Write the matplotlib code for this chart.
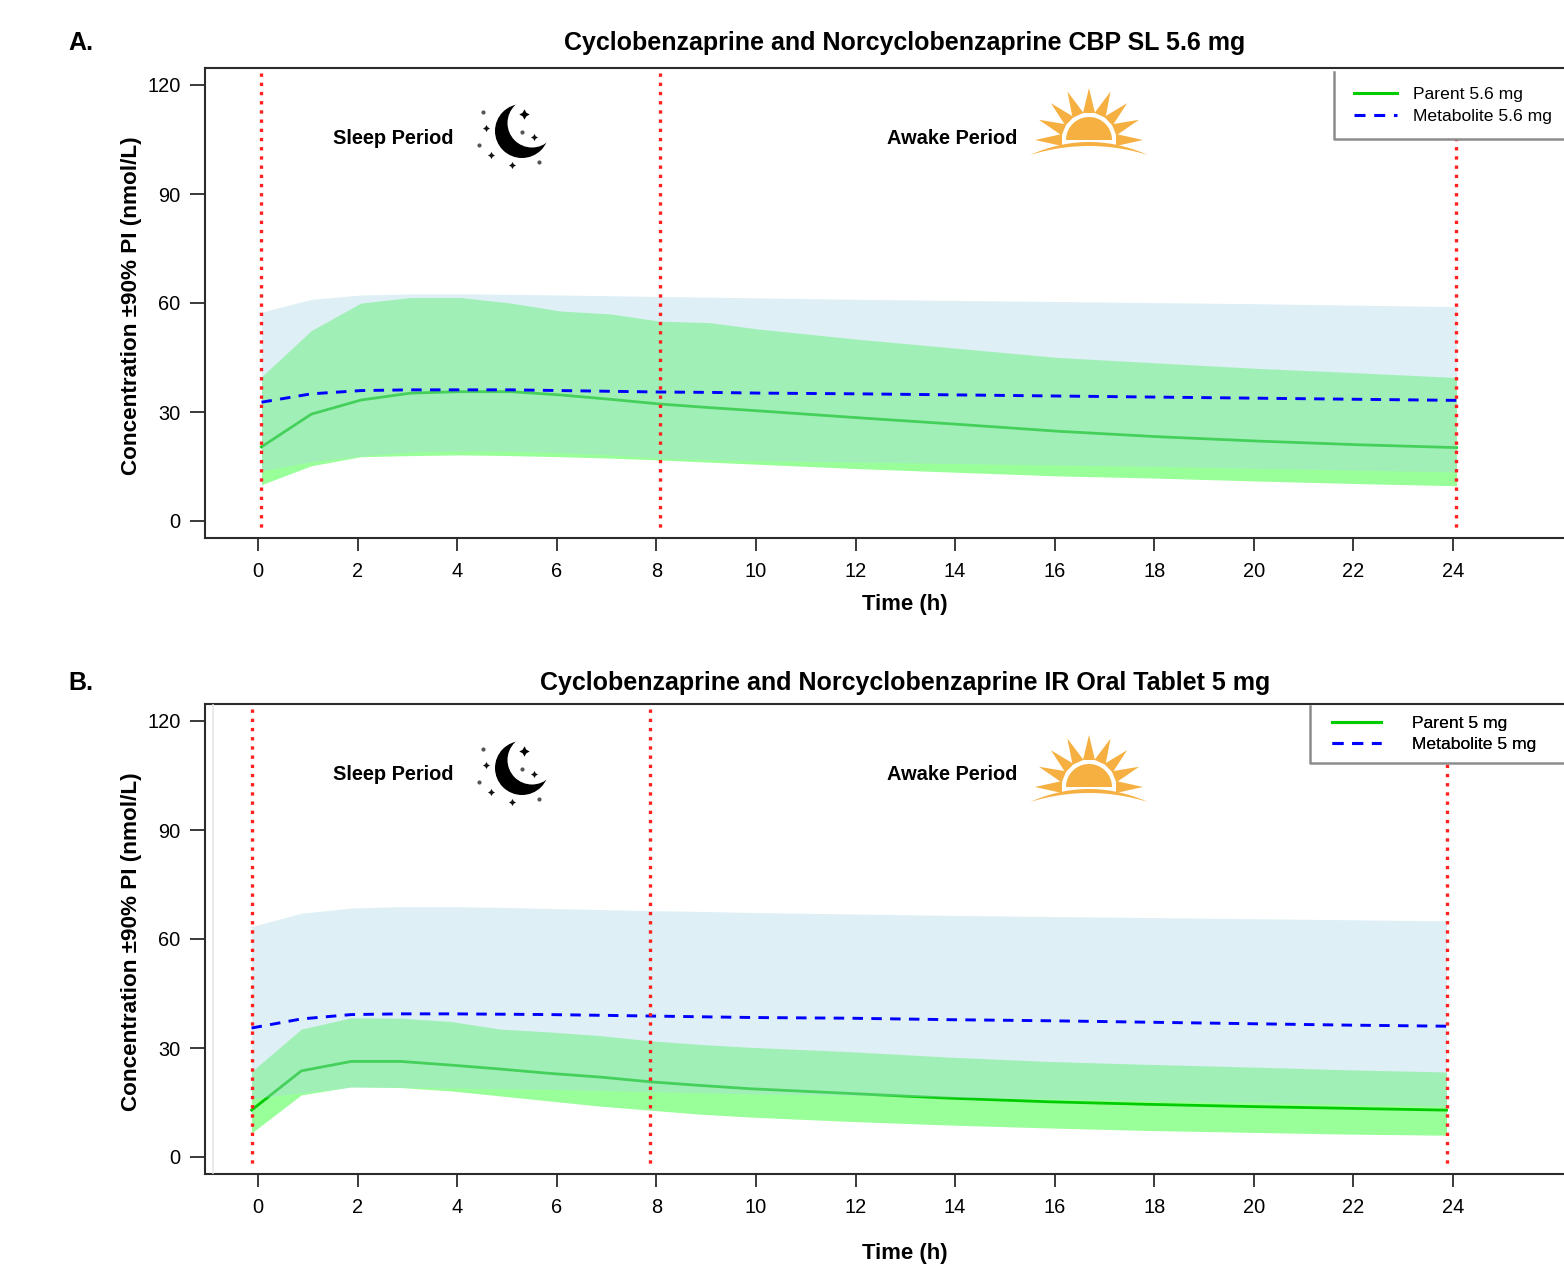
import numpy as np
import matplotlib
matplotlib.use('Agg')
import matplotlib.pyplot as plt
from matplotlib.lines import Line2D
from matplotlib.patches import Circle, Polygon, Rectangle

plt.rcParams['font.family'] = ['Liberation Sans', 'DejaVu Sans']

# Data
time = [0, 1, 2, 3, 4, 5, 6, 7, 8, 9, 10, 12, 14, 16, 18, 20, 22, 24]
period_edges = [0, 8, 24]
x_ticks = list(range(0, 25, 2))
y_ticks = [0, 30, 60, 90, 120]

a_parent = [20.4, 29.4, 33.3, 35.2, 35.6, 35.6, 34.7, 33.5, 32.2, 31.2, 30.3, 28.4, 26.6, 24.7, 23.2, 22.0, 21.0, 20.2]
a_parent_hi = [39.7, 52.4, 60.0, 61.5, 61.5, 60.0, 57.8, 57.0, 55.0, 54.6, 52.8, 50.0, 47.5, 45.0, 43.5, 42.0, 40.8, 39.5]
a_parent_lo = [10.0, 15.2, 17.7, 18.0, 18.2, 18.0, 17.7, 17.3, 16.8, 16.2, 15.6, 14.4, 13.4, 12.4, 11.8, 11.0, 10.3, 9.7]
a_metab = [32.7, 35.0, 35.9, 36.1, 36.1, 36.1, 35.9, 35.7, 35.5, 35.4, 35.2, 35.0, 34.7, 34.4, 34.1, 33.8, 33.5, 33.2]
a_metab_hi = [57.5, 61.0, 62.2, 62.5, 62.5, 62.4, 62.2, 62.0, 61.8, 61.6, 61.4, 61.0, 60.7, 60.4, 60.1, 59.8, 59.4, 59.0]
a_metab_lo = [13.8, 16.3, 17.9, 19.0, 19.3, 19.2, 18.8, 18.2, 17.3, 16.9, 16.6, 16.2, 15.8, 15.4, 15.0, 14.5, 14.0, 13.5]

b_parent = [12.9, 23.7, 26.3, 26.3, 25.3, 24.2, 23.0, 22.0, 20.7, 19.7, 18.8, 17.5, 16.2, 15.2, 14.5, 13.9, 13.4, 12.9]
b_parent_hi = [23.5, 35.2, 38.3, 38.2, 37.3, 35.2, 34.4, 33.4, 32.0, 31.0, 30.2, 29.0, 27.5, 26.3, 25.5, 24.8, 24.0, 23.4]
b_parent_lo = [6.6, 17.1, 19.3, 19.1, 18.2, 16.8, 15.4, 14.0, 12.9, 11.8, 11.0, 9.8, 8.8, 8.0, 7.3, 6.8, 6.3, 6.0]
b_metab = [35.5, 38.0, 39.2, 39.4, 39.4, 39.3, 39.2, 39.0, 38.8, 38.6, 38.4, 38.2, 37.8, 37.5, 37.1, 36.7, 36.3, 36.0]
b_metab_hi = [63.4, 67.1, 68.5, 68.9, 68.9, 68.7, 68.4, 68.1, 67.8, 67.6, 67.3, 66.9, 66.5, 66.2, 65.9, 65.6, 65.3, 65.0]
b_metab_lo = [16.0, 17.7, 19.2, 19.2, 19.0, 18.8, 18.6, 18.3, 18.0, 17.7, 17.4, 17.0, 16.5, 16.0, 15.6, 15.1, 14.5, 14.0]

W, H = 1564, 1266
BLUE_BAND = (173 / 255, 216 / 255, 230 / 255, 0.4)
GREEN_BAND = '#99ff99'
GREEN = '#00cc00'
DARK = '#2b2b2b'
SUN = '#f6b042'

fig = plt.figure(figsize=(W / 100, H / 100), dpi=100)

# overlay in pixel coordinates for the legend boxes and the icons
overlay = fig.add_axes([0, 0, 1, 1], zorder=5)
overlay.set_xlim(0, W)
overlay.set_ylim(H, 0)
overlay.axis('off')
overlay.patch.set_alpha(0)


def draw_moon(cx, cy):
    overlay.add_patch(Circle((cx, cy), 27, color='black', lw=0))
    overlay.add_patch(Circle((cx + 10, cy - 8), 24.5, color='white', lw=0))
    big = [(2, -17)]
    med = [(12, 6), (-36, -3), (-31, 24), (-10, 34)]
    small = [(-39, -19), (0, 1), (-43, 14), (17, 31)]
    for dx, dy in big:
        overlay.scatter(cx + dx, cy + dy, s=55, marker=(4, 1, 0), color='black', lw=0)
    for dx, dy in med:
        overlay.scatter(cx + dx, cy + dy, s=26, marker=(4, 1, 0), color='#111111', lw=0)
    for dx, dy in small:
        overlay.scatter(cx + dx, cy + dy, s=9, color='#555555', lw=0)


def draw_sun(cx, base):
    angles = np.radians([0, 22, 44, 66, 90, 114, 136, 158, 180])
    tips = [54, 54, 53, 53, 52, 53, 53, 54, 54]
    for ang, tip in zip(angles, tips):
        ux, uy = np.cos(ang), -np.sin(ang)
        px, py = -uy, ux
        r0 = 27
        pts = [(cx + r0 * ux + 6 * px, base + r0 * uy + 6 * py),
               (cx + r0 * ux - 6 * px, base + r0 * uy - 6 * py),
               (cx + tip * ux, base + tip * uy)]
        overlay.add_patch(Polygon(pts, color=SUN, lw=0))
    t = np.linspace(0, np.pi, 40)
    disk = np.column_stack([cx + 23 * np.cos(t), base - 23 * np.sin(t)])
    overlay.add_patch(Polygon(disk, color=SUN, lw=0))
    u = np.linspace(-1, 1, 40)
    top = np.column_stack([cx + 59 * u, base + 2 + 13 * u ** 2])
    bot = np.column_stack([cx + 59 * u[::-1], base + 6 + 9 * u[::-1] ** 2])
    overlay.add_patch(Polygon(np.vstack([top, bot]), color=SUN, lw=0))


def draw_panel(top, bottom, y0_px, shift, title, title_y, label, parent, parent_hi, parent_lo,
               metab, metab_hi, metab_lo, xlabel_y, legend_box, legend_labels, handle_len,
               text_pad, row_gap, moon, sun, sleep_xy, awake_xy):
    left, right = 205, W
    ax = fig.add_axes([left / W, 1 - bottom / H, (right - left) / W, (bottom - top) / H])
    px_x = (1453 - 258) / 24
    px_y = 436 / 120
    ax.set_xlim((left - 258) / px_x, (right - 258) / px_x)
    ax.set_ylim((y0_px - bottom) / px_y, (y0_px - top) / px_y)

    t = np.array(time) + shift
    ax.fill_between(t, parent_lo, parent_hi, color=GREEN_BAND, lw=0, zorder=1)
    ax.plot(t, parent, color=GREEN, lw=2, zorder=2)
    ax.fill_between(t, metab_lo, metab_hi, color=BLUE_BAND, lw=0, zorder=3)
    ax.plot(t, metab, color='#0000ff', lw=2.1, dashes=(3.6, 2.85), zorder=4)
    # red dotted lines, drawn from the top so the dots reach the frame there
    for edge in period_edges:
        ax.plot([edge + shift, edge + shift], [0.99, 0.017], transform=ax.get_xaxis_transform(),
                color='#ff2020', lw=2.4, linestyle=(0, (1, 1.76)), zorder=5)

    for side in ['top', 'bottom', 'left']:
        ax.spines[side].set_linewidth(1.5)
        ax.spines[side].set_color(DARK)
    ax.spines['right'].set_visible(False)
    ax.set_xticks(x_ticks)
    ax.set_yticks(y_ticks)
    ax.tick_params(axis='x', length=9, width=1.3, color=DARK, labelsize=14.4, pad=8.6)
    ax.tick_params(axis='y', length=11, width=1.3, color=DARK, labelsize=14.4, pad=6.5)
    ax.set_title(title, x=0.515, y=(bottom - (title_y + 2)) / (bottom - top), va='center', pad=0,
                 fontsize=18, fontweight='bold')
    ax.set_xlabel('Time (h)', fontsize=15.9, fontweight='bold', va='center')
    ax.xaxis.set_label_coords(0.515, (bottom - (xlabel_y + 1.5)) / (bottom - top))
    ax.set_ylabel('Concentration ±90% PI (nmol/L)', fontsize=16.2, fontweight='bold', va='center')
    ax.yaxis.set_label_coords((131 - left) / (right - left), 0.495)

    overlay.text(68, title_y + 2, label, fontsize=18, fontweight='bold', va='center')
    overlay.text(sleep_xy[0], sleep_xy[1] + 1, 'Sleep Period', fontsize=14.4, fontweight='bold',
                 ha='center', va='center')
    overlay.text(awake_xy[0], awake_xy[1] + 1, 'Awake Period', fontsize=14.4, fontweight='bold',
                 ha='center', va='center')
    draw_moon(*moon)
    draw_sun(*sun)

    # legend box runs off the right edge, only left and bottom sides show
    bx, by0, by1, hx, anchor_y = legend_box
    overlay.add_patch(Rectangle((bx, by0), W + 20 - bx, by1 - by0, fc='white', ec='none'))
    overlay.plot([bx, bx, W], [by0, by1, by1], color='#8c8c8c', lw=1.8)
    h1 = Line2D([], [], color=GREEN, lw=2.2)
    h2 = Line2D([], [], color='#0000ff', lw=2.2, dashes=(3.6, 2.85))
    leg = overlay.legend([h1, h2], legend_labels, loc='upper left', frameon=False, fontsize=12.6,
                         bbox_to_anchor=(hx, anchor_y), bbox_transform=overlay.transData,
                         borderpad=0, borderaxespad=0, handlelength=handle_len,
                         handletextpad=text_pad, labelspacing=row_gap)
    overlay.add_artist(leg)
    return ax


draw_panel(68, 538, 521, 0.07,
           'Cyclobenzaprine and Norcyclobenzaprine CBP SL 5.6 mg', 41, 'A.',
           a_parent, a_parent_hi, a_parent_lo, a_metab, a_metab_hi, a_metab_lo,
           603, (1334, 72, 139, 1354, 87), ['Parent 5.6 mg', 'Metabolite 5.6 mg'], 2.45, 0.91, 0.4,
           (522, 131), (1089, 140), (393, 138), (952, 138))

draw_panel(704, 1174, 1157, -0.13,
           'Cyclobenzaprine and Norcyclobenzaprine IR Oral Tablet 5 mg', 681, 'B.',
           b_parent, b_parent_hi, b_parent_lo, b_metab, b_metab_hi, b_metab_lo,
           1252, (1310, 706, 763, 1332, 716), ['Parent 5 mg', 'Metabolite 5 mg'], 2.8, 1.8, 0.34,
           (522, 768), (1089, 787), (393, 774), (952, 774))

# faint line near the left edge of panel B
overlay.plot([213, 213], [705, 1173], color='#e6e6e6', lw=1.2)

fig.savefig('out.png', dpi=100)
